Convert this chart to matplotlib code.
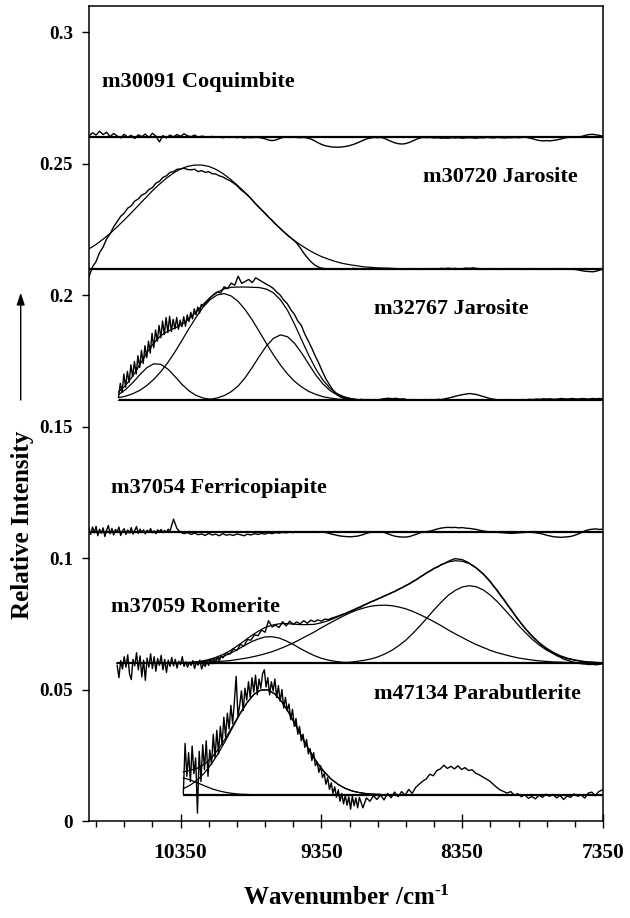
import matplotlib
matplotlib.use("Agg")
import matplotlib.pyplot as plt
import numpy as np

plt.rcParams["font.family"] = ["Liberation Serif", "DejaVu Serif"]
plt.rcParams["font.weight"] = "bold"
plt.rcParams["mathtext.fontset"] = "custom"
plt.rcParams["mathtext.rm"] = "Liberation Serif:bold"
plt.rcParams["mathtext.it"] = "Liberation Serif:bold"
plt.rcParams["mathtext.bf"] = "Liberation Serif:bold"

# ---- sample names, label anchor (wavenumber, intensity) ----
names = ["m30091 Coquimbite", "m30720 Jarosite", "m32767 Jarosite",
         "m37054 Ferricopiapite", "m37059 Romerite", "m47134 Parabutlerite"]
name_x = [10910, 8629, 8979, 10844, 10844, 8979]
name_y = [0.2790, 0.2431, 0.1927, 0.1246, 0.0796, 0.0463]

# baselines: level and starting wavenumber (all run to 7350)
base_level = [0.26, 0.21, 0.16, 0.11, 0.06, 0.01]
base_start = [11000, 11000, 10790, 11000, 10800, 10330]

# ---- m30091 Coquimbite spectrum, 11000 -> 7350 ----
coq = [
    0.2605, 0.2618, 0.2609, 0.2624, 0.2611, 0.2620, 0.2603, 0.2615,
    0.2606, 0.2598, 0.2612, 0.2601, 0.2608, 0.2596, 0.2610, 0.2603,
    0.2613, 0.2599, 0.2616, 0.2605, 0.2583, 0.2607, 0.2598, 0.2609,
    0.2602, 0.2611, 0.2604, 0.2614, 0.2606, 0.2603, 0.2609, 0.2601,
    0.2605, 0.2603, 0.2601, 0.2604, 0.2600, 0.2602, 0.2599, 0.2601,
    0.2600, 0.2602, 0.2599, 0.2601, 0.2598, 0.2600, 0.2599, 0.2600,
    0.2600, 0.2598, 0.2595, 0.2590, 0.2588, 0.2590, 0.2595, 0.2600,
    0.2601, 0.2600, 0.2601, 0.2600, 0.2599, 0.2600, 0.2598, 0.2594,
    0.2588, 0.2580, 0.2574, 0.2569, 0.2566, 0.2564, 0.2563, 0.2563,
    0.2564, 0.2566, 0.2569, 0.2573, 0.2578, 0.2584, 0.2590, 0.2595,
    0.2598, 0.2600, 0.2599, 0.2600, 0.2596, 0.2590, 0.2584, 0.2579,
    0.2576, 0.2575, 0.2577, 0.2581, 0.2587, 0.2593, 0.2598, 0.2600,
    0.2599, 0.2600, 0.2598, 0.2599, 0.2597, 0.2598, 0.2597, 0.2599,
    0.2598, 0.2599, 0.2597, 0.2598, 0.2599, 0.2598, 0.2597, 0.2599,
    0.2598, 0.2600, 0.2599, 0.2598, 0.2600, 0.2599, 0.2598, 0.2599,
    0.2599, 0.2600, 0.2599, 0.2600, 0.2601, 0.2598, 0.2595, 0.2591,
    0.2588, 0.2587, 0.2588, 0.2587, 0.2589, 0.2591, 0.2594, 0.2598,
    0.2600, 0.2601, 0.2600, 0.2602, 0.2604, 0.2608, 0.2611, 0.2612,
    0.2610, 0.2608, 0.2605,
]

# ---- m30720 Jarosite spectrum 11000 -> 7350, fit 11000 -> 8800 ----
jar1 = [
    0.2070, 0.2108, 0.2128, 0.2162, 0.2183, 0.2214, 0.2234, 0.2260,
    0.2280, 0.2300, 0.2312, 0.2331, 0.2340, 0.2358, 0.2366, 0.2381,
    0.2387, 0.2402, 0.2409, 0.2426, 0.2433, 0.2448, 0.2454, 0.2467,
    0.2470, 0.2479, 0.2480, 0.2483, 0.2478, 0.2477, 0.2479, 0.2470,
    0.2474, 0.2467, 0.2470, 0.2462, 0.2461, 0.2454, 0.2450, 0.2442,
    0.2436, 0.2427, 0.2417, 0.2403, 0.2392, 0.2381, 0.2368, 0.2352,
    0.2338, 0.2325, 0.2312, 0.2297, 0.2285, 0.2270, 0.2258, 0.2245,
    0.2233, 0.2221, 0.2211, 0.2198, 0.2180, 0.2160, 0.2143, 0.2128,
    0.2116, 0.2108, 0.2103, 0.2101, 0.2100, 0.2099, 0.2101, 0.2100,
    0.2099, 0.2101, 0.2100, 0.2102, 0.2100, 0.2099, 0.2101, 0.2100,
    0.2099, 0.2100, 0.2101, 0.2099, 0.2100, 0.2102, 0.2100, 0.2101,
    0.2099, 0.2100, 0.2098, 0.2100, 0.2101, 0.2099, 0.2100, 0.2098,
    0.2100, 0.2101, 0.2099, 0.2100, 0.2102, 0.2101, 0.2103, 0.2101,
    0.2102, 0.2100, 0.2101, 0.2103, 0.2102, 0.2104, 0.2102, 0.2101,
    0.2100, 0.2099, 0.2101, 0.2100, 0.2098, 0.2100, 0.2099, 0.2101,
    0.2100, 0.2101, 0.2099, 0.2100, 0.2098, 0.2100, 0.2101, 0.2099,
    0.2100, 0.2098, 0.2100, 0.2099, 0.2101, 0.2100, 0.2099, 0.2100,
    0.2101, 0.2099, 0.2098, 0.2096, 0.2093, 0.2091, 0.2090, 0.2089,
    0.2091, 0.2095, 0.2099,
]
jar1_fit = [
    0.2176, 0.2193, 0.2213, 0.2235, 0.2260, 0.2286, 0.2313, 0.2341,
    0.2369, 0.2397, 0.2422, 0.2445, 0.2465, 0.2480, 0.2490, 0.2495,
    0.2495, 0.2490, 0.2479, 0.2463, 0.2443, 0.2420, 0.2395, 0.2367,
    0.2339, 0.2311, 0.2284, 0.2258, 0.2233, 0.2211, 0.2192, 0.2175,
    0.2160, 0.2147, 0.2137, 0.2128, 0.2121, 0.2116, 0.2112, 0.2108,
    0.2106, 0.2104, 0.2103, 0.2102, 0.2101,
]

# ---- m32767 Jarosite: noisy start 10790 -> 10190, rest 10165 -> 7350 ----
jar2_a = [
    0.1612, 0.1665, 0.1630, 0.1700, 0.1650, 0.1710, 0.1668, 0.1735,
    0.1690, 0.1748, 0.1700, 0.1770, 0.1725, 0.1790, 0.1740, 0.1808,
    0.1762, 0.1825, 0.1780, 0.1855, 0.1800, 0.1868, 0.1825, 0.1885,
    0.1838, 0.1902, 0.1850, 0.1915, 0.1858, 0.1920, 0.1862, 0.1908,
    0.1872, 0.1915, 0.1870, 0.1905, 0.1880, 0.1918, 0.1882, 0.1925,
    0.1900, 0.1935, 0.1910, 0.1948, 0.1925, 0.1955, 0.1932, 0.1965,
    0.1958,
]
jar2_b = [
    0.1972, 0.1990, 0.2003, 0.2012, 0.2008, 0.2032, 0.2025,
    0.2046, 0.2038, 0.2072, 0.2045, 0.2052, 0.2060, 0.2048, 0.2066,
    0.2058, 0.2050, 0.2042, 0.2035, 0.2026, 0.2012, 0.2000, 0.1981,
    0.1968, 0.1945, 0.1928, 0.1902, 0.1885, 0.1852, 0.1826, 0.1798,
    0.1768, 0.1741, 0.1710, 0.1682, 0.1660, 0.1640, 0.1625, 0.1614,
    0.1608, 0.1604, 0.1602, 0.1603, 0.1601, 0.1604, 0.1602, 0.1603,
    0.1601, 0.1603, 0.1602, 0.1605, 0.1607, 0.1608, 0.1606, 0.1608,
    0.1605, 0.1606, 0.1603, 0.1601, 0.1603, 0.1602, 0.1600, 0.1603,
    0.1602, 0.1603, 0.1601, 0.1604, 0.1603, 0.1606, 0.1609, 0.1612,
    0.1616, 0.1619, 0.1622, 0.1624, 0.1626, 0.1624, 0.1622, 0.1618,
    0.1614, 0.1610, 0.1606, 0.1604, 0.1602, 0.1601, 0.1603, 0.1601,
    0.1600, 0.1602, 0.1601, 0.1603, 0.1602, 0.1604, 0.1603, 0.1605,
    0.1604, 0.1606, 0.1605, 0.1606, 0.1604, 0.1605, 0.1607, 0.1606,
    0.1605, 0.1607, 0.1606, 0.1605, 0.1607, 0.1606, 0.1605, 0.1607,
    0.1606, 0.1607, 0.1606,
]
jar2_fit = [
    0.1632, 0.1657, 0.1692, 0.1735, 0.1780, 0.1818, 0.1846, 0.1863,
    0.1875, 0.1889, 0.1910, 0.1936, 0.1965, 0.1991, 0.2011, 0.2024,
    0.2030, 0.2031, 0.2031, 0.2030, 0.2029, 0.2023, 0.2009, 0.1982,
    0.1942, 0.1889, 0.1830, 0.1772, 0.1720, 0.1678, 0.1647, 0.1626,
    0.1614, 0.1607, 0.1603, 0.1601, 0.1600,
]
jar2_b1 = [
    0.1622, 0.1641, 0.1667, 0.1697, 0.1724, 0.1739, 0.1737, 0.1719,
    0.1691, 0.1661, 0.1636, 0.1619, 0.1609, 0.1604, 0.1601, 0.1600,
    0.1600, 0.1600, 0.1600, 0.1600, 0.1600, 0.1600, 0.1600, 0.1600,
    0.1600, 0.1600, 0.1600, 0.1600, 0.1600, 0.1600, 0.1600, 0.1600,
    0.1600, 0.1600, 0.1600, 0.1600, 0.1600,
]
jar2_b2 = [
    0.1610, 0.1616, 0.1625, 0.1638, 0.1656, 0.1680, 0.1709, 0.1744,
    0.1784, 0.1828, 0.1873, 0.1916, 0.1954, 0.1983, 0.2001, 0.2006,
    0.1997, 0.1976, 0.1944, 0.1905, 0.1861, 0.1816, 0.1773, 0.1734,
    0.1700, 0.1672, 0.1651, 0.1634, 0.1623, 0.1614, 0.1609, 0.1605,
    0.1603, 0.1602, 0.1601, 0.1600, 0.1600,
]
jar2_b3 = [
    0.1600, 0.1600, 0.1600, 0.1600, 0.1600, 0.1600, 0.1600, 0.1600,
    0.1600, 0.1600, 0.1600, 0.1601, 0.1602, 0.1604, 0.1609, 0.1618,
    0.1633, 0.1655, 0.1687, 0.1726, 0.1768, 0.1807, 0.1836, 0.1849,
    0.1842, 0.1817, 0.1780, 0.1738, 0.1697, 0.1663, 0.1638, 0.1621,
    0.1611, 0.1605, 0.1602, 0.1601, 0.1600,
]

# ---- m37054 Ferricopiapite: noisy start 11000 -> 10400, rest 10375 -> 7350 ----
fcp_a = [
    0.1112, 0.1090, 0.1118, 0.1096, 0.1121, 0.1085, 0.1110, 0.1094,
    0.1115, 0.1082, 0.1106, 0.1124, 0.1092, 0.1113, 0.1088, 0.1109,
    0.1100, 0.1118, 0.1086, 0.1104, 0.1112, 0.1090, 0.1107, 0.1095,
    0.1116, 0.1091, 0.1105, 0.1120, 0.1094, 0.1110, 0.1097, 0.1108,
    0.1092, 0.1106, 0.1099, 0.1112, 0.1096, 0.1104, 0.1093, 0.1108,
    0.1100, 0.1109, 0.1097, 0.1105, 0.1098, 0.1110, 0.1102, 0.1125,
    0.1148,
]
fcp_b = [
    0.1112, 0.1098, 0.1093, 0.1097, 0.1090, 0.1095, 0.1089,
    0.1092, 0.1086, 0.1094, 0.1088, 0.1091, 0.1085, 0.1093, 0.1087,
    0.1090, 0.1086, 0.1092, 0.1089, 0.1085, 0.1091, 0.1088, 0.1093,
    0.1090, 0.1094, 0.1091, 0.1096, 0.1093, 0.1097, 0.1095, 0.1098,
    0.1096, 0.1099, 0.1097, 0.1100, 0.1098, 0.1101, 0.1099, 0.1100,
    0.1101, 0.1099, 0.1100, 0.1098, 0.1095, 0.1091, 0.1088, 0.1085,
    0.1083, 0.1082, 0.1081, 0.1082, 0.1083, 0.1086, 0.1090, 0.1095,
    0.1098, 0.1100, 0.1099, 0.1100, 0.1097, 0.1092, 0.1087, 0.1083,
    0.1081, 0.1080, 0.1080, 0.1082, 0.1086, 0.1091, 0.1096, 0.1100,
    0.1101, 0.1103, 0.1107, 0.1111, 0.1114, 0.1116, 0.1117, 0.1116,
    0.1117, 0.1115, 0.1116, 0.1114, 0.1113, 0.1111, 0.1109, 0.1106,
    0.1103, 0.1101, 0.1100, 0.1099, 0.1098, 0.1097, 0.1096, 0.1095,
    0.1094, 0.1095, 0.1096, 0.1097, 0.1098, 0.1099, 0.1098, 0.1096,
    0.1094, 0.1091, 0.1087, 0.1084, 0.1081, 0.1080, 0.1079, 0.1080,
    0.1081, 0.1083, 0.1087, 0.1092, 0.1098, 0.1104, 0.1108, 0.1110,
    0.1111, 0.1109, 0.1110,
]

# ---- m37059 Romerite: noisy start 10800 -> 10050, rest 10025 -> 7350 ----
rom_a0 = [
    0.0592, 0.0545, 0.0610, 0.0578, 0.0625, 0.0585, 0.0632, 0.0560,
    0.0538, 0.0615, 0.0590, 0.0640, 0.0575, 0.0628, 0.0548, 0.0612,
    0.0535, 0.0620, 0.0585, 0.0636, 0.0580, 0.0625, 0.0570, 0.0618,
    0.0592, 0.0630, 0.0575, 0.0615, 0.0565, 0.0612, 0.0588, 0.0622,
    0.0590, 0.0615, 0.0582, 0.0608, 0.0595, 0.0625, 0.0588, 0.0606,
    0.0585, 0.0603, 0.0592, 0.0610, 0.0580, 0.0604, 0.0593, 0.0612,
    0.0578, 0.0600, 0.0588, 0.0607, 0.0592, 0.0615, 0.0598, 0.0620,
    0.0600, 0.0626, 0.0608, 0.0630, 0.0620,
]
rom_b0 = [
    0.0640,
    0.0635, 0.0655, 0.0648, 0.0672, 0.0665, 0.0690, 0.0688, 0.0708,
    0.0705, 0.0726, 0.0718, 0.0762, 0.0738, 0.0745, 0.0736, 0.0758,
    0.0742, 0.0760, 0.0748, 0.0757, 0.0750, 0.0762, 0.0752, 0.0764,
    0.0758, 0.0765, 0.0760, 0.0768, 0.0766, 0.0772, 0.0776, 0.0781,
    0.0786, 0.0790, 0.0796, 0.0800, 0.0808, 0.0812, 0.0820, 0.0826,
    0.0833, 0.0838, 0.0845, 0.0850, 0.0857, 0.0862, 0.0869, 0.0874,
    0.0882, 0.0888, 0.0896, 0.0902, 0.0911, 0.0918, 0.0928, 0.0936,
    0.0945, 0.0952, 0.0961, 0.0966, 0.0975, 0.0980, 0.0987, 0.0993,
    0.0998, 0.0996, 0.0994, 0.0988, 0.0981, 0.0972, 0.0963, 0.0951,
    0.0940, 0.0926, 0.0911, 0.0893, 0.0877, 0.0857, 0.0840, 0.0820,
    0.0803, 0.0783, 0.0765, 0.0747, 0.0731, 0.0715, 0.0701, 0.0688,
    0.0675, 0.0664, 0.0653, 0.0644, 0.0636, 0.0628, 0.0622, 0.0615,
    0.0611, 0.0606, 0.0603, 0.0600, 0.0598, 0.0597, 0.0595, 0.0596,
    0.0594, 0.0596, 0.0598,
]
rom_fit = [
    0.0600, 0.0600, 0.0600, 0.0600, 0.0600, 0.0600, 0.0600, 0.0600,
    0.0601, 0.0602, 0.0603, 0.0605, 0.0608, 0.0614, 0.0622, 0.0633,
    0.0647, 0.0665, 0.0684, 0.0704, 0.0721, 0.0736, 0.0745, 0.0750,
    0.0751, 0.0749, 0.0747, 0.0747, 0.0748, 0.0754, 0.0762, 0.0773,
    0.0784, 0.0797, 0.0809, 0.0821, 0.0833, 0.0844, 0.0856, 0.0868,
    0.0881, 0.0895, 0.0910, 0.0927, 0.0944, 0.0960, 0.0974, 0.0985,
    0.0990, 0.0988, 0.0979, 0.0962, 0.0939, 0.0909, 0.0874, 0.0838,
    0.0801, 0.0764, 0.0731, 0.0702, 0.0677, 0.0657, 0.0641, 0.0628,
    0.0619, 0.0613, 0.0608, 0.0605, 0.0603, 0.0602,
]
rom_a = [
    0.0600, 0.0600, 0.0600, 0.0600, 0.0600, 0.0600, 0.0600, 0.0600,
    0.0600, 0.0601, 0.0601, 0.0603, 0.0605, 0.0610, 0.0616, 0.0625,
    0.0637, 0.0651, 0.0666, 0.0681, 0.0692, 0.0700, 0.0701, 0.0696,
    0.0685, 0.0672, 0.0656, 0.0642, 0.0629, 0.0619, 0.0612, 0.0607,
    0.0604, 0.0602, 0.0601, 0.0600, 0.0600, 0.0600, 0.0600, 0.0600,
    0.0600, 0.0600, 0.0600, 0.0600, 0.0600, 0.0600, 0.0600, 0.0600,
    0.0600, 0.0600, 0.0600, 0.0600, 0.0600, 0.0600, 0.0600, 0.0600,
    0.0600, 0.0600, 0.0600, 0.0600, 0.0600, 0.0600, 0.0600, 0.0600,
    0.0600, 0.0600, 0.0600, 0.0600, 0.0600, 0.0600,
]
rom_b = [
    0.0600, 0.0600, 0.0600, 0.0600, 0.0600, 0.0600, 0.0600, 0.0600,
    0.0601, 0.0601, 0.0602, 0.0602, 0.0603, 0.0604, 0.0606, 0.0608,
    0.0610, 0.0614, 0.0618, 0.0623, 0.0629, 0.0636, 0.0644, 0.0654,
    0.0665, 0.0677, 0.0691, 0.0705, 0.0719, 0.0735, 0.0750, 0.0764,
    0.0778, 0.0791, 0.0802, 0.0810, 0.0817, 0.0820, 0.0821, 0.0819,
    0.0814, 0.0807, 0.0797, 0.0785, 0.0772, 0.0758, 0.0743, 0.0727,
    0.0712, 0.0698, 0.0684, 0.0671, 0.0660, 0.0649, 0.0640, 0.0633,
    0.0626, 0.0620, 0.0616, 0.0612, 0.0609, 0.0607, 0.0605, 0.0604,
    0.0603, 0.0602, 0.0601, 0.0601, 0.0601, 0.0600,
]
rom_c = [
    0.0600, 0.0600, 0.0600, 0.0600, 0.0600, 0.0600, 0.0600, 0.0600,
    0.0600, 0.0600, 0.0600, 0.0600, 0.0600, 0.0600, 0.0600, 0.0600,
    0.0600, 0.0600, 0.0600, 0.0600, 0.0600, 0.0600, 0.0600, 0.0600,
    0.0600, 0.0600, 0.0600, 0.0600, 0.0600, 0.0600, 0.0601, 0.0601,
    0.0602, 0.0604, 0.0607, 0.0611, 0.0616, 0.0624, 0.0635, 0.0649,
    0.0667, 0.0688, 0.0714, 0.0742, 0.0772, 0.0803, 0.0832, 0.0858,
    0.0877, 0.0890, 0.0895, 0.0891, 0.0879, 0.0859, 0.0834, 0.0805,
    0.0775, 0.0744, 0.0716, 0.0690, 0.0668, 0.0650, 0.0636, 0.0625,
    0.0617, 0.0611, 0.0607, 0.0604, 0.0603, 0.0602,
]

# ---- m47134 Parabutlerite: band 10330 -> 9080, rest 9055 -> 7355 ----
pbt_a = [
    0.0105, 0.0295, 0.0170, 0.0260, 0.0150, 0.0285, 0.0180, 0.0240,
    0.0030, 0.0265, 0.0150, 0.0290, 0.0195, 0.0305, 0.0170, 0.0270,
    0.0215, 0.0330, 0.0240, 0.0345, 0.0255, 0.0360, 0.0290, 0.0395,
    0.0320, 0.0410, 0.0350, 0.0440, 0.0370, 0.0455, 0.0550, 0.0400,
    0.0440, 0.0495, 0.0420, 0.0505, 0.0460, 0.0530, 0.0470, 0.0545,
    0.0490, 0.0555, 0.0480, 0.0540, 0.0505, 0.0560, 0.0575, 0.0510,
    0.0545, 0.0480, 0.0530, 0.0495, 0.0540, 0.0470, 0.0515, 0.0455,
    0.0500, 0.0430, 0.0470, 0.0420, 0.0445, 0.0385, 0.0425, 0.0360,
    0.0390, 0.0330, 0.0360, 0.0305, 0.0330, 0.0280, 0.0310, 0.0255,
    0.0275, 0.0230, 0.0260, 0.0210, 0.0225, 0.0185, 0.0210, 0.0165,
    0.0180, 0.0140, 0.0165, 0.0120, 0.0145, 0.0105, 0.0130, 0.0090,
    0.0118, 0.0075, 0.0105, 0.0065, 0.0098, 0.0060, 0.0092, 0.0045,
    0.0095, 0.0058, 0.0088, 0.0050, 0.0090,
]
pbt_b = [
    0.0050, 0.0088, 0.0075, 0.0096, 0.0082,
    0.0099, 0.0080, 0.0105, 0.0088, 0.0110, 0.0092, 0.0112, 0.0098,
    0.0120, 0.0105, 0.0128, 0.0140, 0.0152, 0.0160, 0.0178, 0.0172,
    0.0192, 0.0198, 0.0212, 0.0200, 0.0208, 0.0198, 0.0210, 0.0196,
    0.0203, 0.0192, 0.0195, 0.0182, 0.0176, 0.0168, 0.0160, 0.0152,
    0.0140, 0.0128, 0.0118, 0.0112, 0.0106, 0.0112, 0.0098, 0.0104,
    0.0092, 0.0100, 0.0086, 0.0093, 0.0084, 0.0098, 0.0090, 0.0102,
    0.0094, 0.0101, 0.0088, 0.0097, 0.0082, 0.0095, 0.0090, 0.0103,
    0.0094, 0.0100, 0.0087, 0.0106, 0.0110, 0.0096, 0.0112, 0.0118,
]
pbt_fit = [
    0.0187, 0.0193, 0.0201, 0.0216, 0.0240, 0.0274, 0.0315, 0.0361,
    0.0408, 0.0449, 0.0481, 0.0498, 0.0499, 0.0483, 0.0453, 0.0411,
    0.0362, 0.0312, 0.0264, 0.0222, 0.0187, 0.0159, 0.0139, 0.0124,
    0.0114, 0.0108, 0.0104, 0.0102, 0.0101,
]
pbt_b1 = [
    0.0164, 0.0156, 0.0145, 0.0134, 0.0123, 0.0115, 0.0109, 0.0105,
    0.0102, 0.0101, 0.0100, 0.0100, 0.0100, 0.0100, 0.0100, 0.0100,
    0.0100, 0.0100, 0.0100, 0.0100, 0.0100, 0.0100, 0.0100, 0.0100,
    0.0100, 0.0100, 0.0100, 0.0100, 0.0100,
]
pbt_b2 = [
    0.0123, 0.0137, 0.0156, 0.0183, 0.0217, 0.0259, 0.0306, 0.0356,
    0.0405, 0.0448, 0.0481, 0.0498, 0.0499, 0.0483, 0.0453, 0.0411,
    0.0362, 0.0312, 0.0264, 0.0222, 0.0187, 0.0159, 0.0139, 0.0124,
    0.0114, 0.0108, 0.0104, 0.0102, 0.0101,
]

xticks = [10350, 9350, 8350, 7350]
yticks = [0, 0.05, 0.1, 0.15, 0.2, 0.25, 0.3]
ytick_labels = ["0", "0.05", "0.1", "0.15", "0.2", "0.25", "0.3"]

# each measured trace: list of (values, first wavenumber, last wavenumber)
spectra = [
    [(coq, 11000, 7350)],
    [(jar1, 11000, 7350)],
    [(jar2_a, 10790, 10190), (jar2_b, 10165, 7350)],
    [(fcp_a, 11000, 10400), (fcp_b, 10375, 7350)],
    [(rom_a0, 10800, 10050), (rom_b0, 10025, 7350)],
    [(pbt_a, 10330, 9080), (pbt_b, 9055, 7355)],
]
fits = [
    (jar1_fit, 11000, 8800),
    (jar2_fit, 10790, 8990), (jar2_b1, 10790, 8990),
    (jar2_b2, 10790, 8990), (jar2_b3, 10790, 8990),
    (rom_fit, 10800, 7350), (rom_a, 10800, 7350),
    (rom_b, 10800, 7350), (rom_c, 10800, 7350),
    (pbt_fit, 10330, 8930), (pbt_b1, 10330, 8930), (pbt_b2, 10330, 8930),
]

fig = plt.figure(figsize=(6.3, 9.18), dpi=100)
ax = fig.add_axes([89 / 630, 1 - 821 / 918, 514 / 630, 815 / 918])

ax.hlines(base_level, base_start, 7350, colors="k", lw=1.6, zorder=3)
for vals, x0, x1 in fits:
    ax.plot(np.linspace(x0, x1, len(vals)), vals, color="k", lw=0.9)
for segs in spectra:
    xs = np.concatenate([np.linspace(x0, x1, len(v)) for v, x0, x1 in segs])
    ys = np.concatenate([v for v, x0, x1 in segs])
    ax.plot(xs, ys, color="k", lw=1.0)

for name, tx, ty in zip(names, name_x, name_y):
    ax.text(tx, ty, name, fontsize=16, fontweight="bold", ha="left", va="baseline")

ax.set_xlim(11000, 7350)
ax.set_ylim(0, 0.31)
ax.set_xticks(xticks)
ax.set_xticks(np.arange(7350, 11001, 200), minor=True)
ax.set_yticks(yticks, ytick_labels)
ax.tick_params(axis="x", which="major", direction="inout", length=9.5,
               width=1, pad=11, labelsize=15.5)
ax.tick_params(axis="x", which="minor", direction="out", length=4.5, width=1)
ax.tick_params(axis="y", which="major", direction="out", length=5.3,
               width=1, pad=6.4, labelsize=13.7)
for s in ax.spines.values():
    s.set_linewidth(1.1)

fig.text(346 / 630, 1 - 905 / 918, r"Wavenumber /cm$^{\text{-1}}$", fontsize=18,
         fontweight="bold", ha="center", va="baseline")
fig.text(22.5 / 630, 1 - 525 / 918, "Relative Intensity", fontsize=18,
         fontweight="bold", rotation=90, ha="center", va="center")
ax.annotate("", xy=(20.7 / 630, 1 - 292.7 / 918), xytext=(20.7 / 630, 1 - 400 / 918),
            xycoords="figure fraction", textcoords="figure fraction",
            arrowprops=dict(arrowstyle="-|>,head_length=0.6,head_width=0.2",
                            color="k", lw=1, mutation_scale=12, shrinkA=0, shrinkB=0))

fig.savefig("out.png", dpi=100)
